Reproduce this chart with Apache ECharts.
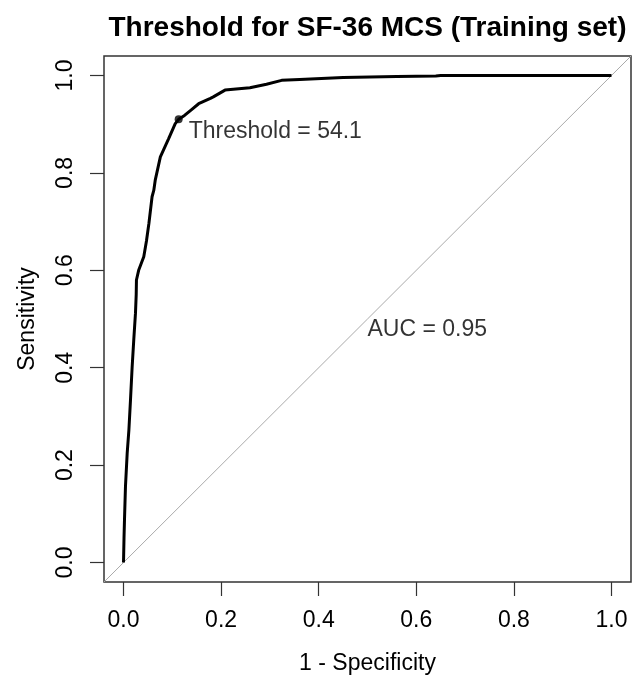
<!DOCTYPE html>
<html>
<head>
<meta charset="utf-8">
<script src="https://cdn.jsdelivr.net/npm/echarts@6/dist/echarts.min.js"></script>
<style>html,body{margin:0;padding:0;background:#fff}#c{width:632px;height:678px}</style>
</head>
<body>
<div id="c"></div>
<script>
// ROC curve points (1 - specificity, sensitivity)
var fpr  = [0, 0.001, 0.002, 0.004, 0.0075, 0.011, 0.0143, 0.0177, 0.021, 0.0245, 0.026, 0.0265, 0.031, 0.0415, 0.047, 0.052, 0.0585, 0.062, 0.065, 0.0755, 0.0925, 0.106, 0.113, 0.125, 0.137, 0.154, 0.178, 0.184, 0.208, 0.259, 0.293, 0.324, 0.361, 0.45, 0.56, 0.64, 0.65, 1.0];
var sens = [0, 0.05, 0.088, 0.156, 0.224, 0.272, 0.334, 0.402, 0.457, 0.512, 0.55, 0.58, 0.6, 0.628, 0.66, 0.696, 0.751, 0.764, 0.785, 0.833, 0.8705, 0.901, 0.91, 0.918, 0.928, 0.942, 0.953, 0.956, 0.97, 0.975, 0.982, 0.99, 0.992, 0.996, 0.998, 0.999, 1.0, 1.0];
var threshold = {x: 0.113, y: 0.91, label: 'Threshold = 54.1'};
var auc = {x: 0.5, y: 0.479, label: 'AUC = 0.95'};
var tickValues = [0, 0.2, 0.4, 0.6, 0.8, 1.0];
var diagonal = [[-0.04, -0.04], [1.04, 1.04]];
var titleText = 'Threshold for SF-36 MCS (Training set)';
var xName = '1 - Specificity';
var yName = 'Sensitivity';

var FONT = '"Liberation Sans", Arial, Helvetica, sans-serif';
var FS = 23;
var rocData = fpr.map(function (v, i) { return [v, sens[i]]; });

var chart = echarts.init(document.getElementById('c'), null, {renderer: 'canvas'});
function axisCommon(name, gap) {
  return {
    type: 'value', min: -0.04, max: 1.04,
    name: name, nameLocation: 'middle', nameGap: gap,
    nameTextStyle: {fontFamily: FONT, fontSize: FS, color: '#000'},
    axisLine: {show: false, onZero: false},
    splitLine: {show: false},
    axisTick: {show: true, inside: false, length: 14, customValues: tickValues, lineStyle: {color: '#333', width: 1.2}},
    axisLabel: {show: true, customValues: tickValues, fontFamily: FONT, fontSize: FS, color: '#000',
      formatter: function (v) { return (+v).toFixed(1); }}
  };
}
var xAxis = axisCommon(xName, 70);
xAxis.axisLabel.margin = 27;
var yAxis = axisCommon(yName, 65);
yAxis.axisLabel.margin = 27;
yAxis.axisLabel.rotate = 90;

chart.setOption({
  animation: false,
  backgroundColor: '#fff',
  grid: {left: 104, right: 1, top: 56, bottom: 96, outerBoundsMode: 'none', containLabel: false,
    show: true, borderColor: '#333', borderWidth: 1.5, backgroundColor: 'transparent'},
  graphic: [{
    type: 'text', x: 367.5, y: 28,
    style: {text: titleText, font: 'bold 28px ' + FONT, fill: '#000', textAlign: 'center', textVerticalAlign: 'middle'}
  }],
  xAxis: xAxis,
  yAxis: yAxis,
  series: [
    {type: 'line', data: diagonal, symbol: 'none', silent: true, lineStyle: {color: '#aaaaaa', width: 1}, z: 1},
    {type: 'line', data: rocData, symbol: 'none', silent: true, lineStyle: {color: '#000', width: 3}, z: 2},
    {type: 'scatter', data: [[threshold.x, threshold.y]], symbol: 'circle', symbolSize: 8, itemStyle: {color: '#000'}, z: 3,
      label: {show: true, position: 'right', distance: 6, offset: [0, 12], formatter: threshold.label, fontFamily: FONT, fontSize: FS, color: '#000'}},
    {type: 'scatter', data: [[auc.x, auc.y]], symbolSize: 0, itemStyle: {color: 'transparent'}, z: 3,
      label: {show: true, position: 'right', distance: 0, formatter: auc.label, fontFamily: FONT, fontSize: FS, color: '#000'}}
  ]
});
</script>
</body>
</html>
